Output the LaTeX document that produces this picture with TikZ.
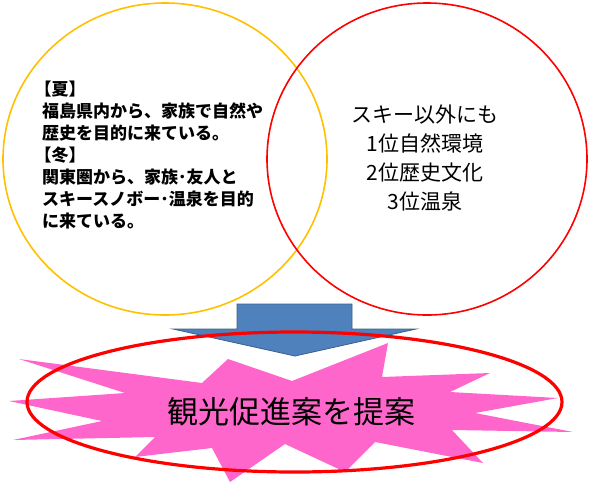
\documentclass[tikz,border=0pt]{standalone}
\usepackage{fontspec}
\newfontfamily\jp{Noto Sans CJK JP}
\definecolor{circY}{HTML}{FFC000}
\definecolor{circR}{HTML}{FF0000}
\definecolor{arrF}{HTML}{4F81BD}
\definecolor{arrD}{HTML}{3A5F8E}
\definecolor{boom}{HTML}{FF66CC}
\tikzset{
  bubble/.style={line width=1.6pt},
  lefttext/.style={font=\jp\bfseries\fontsize{17}{22}\selectfont, align=left, inner sep=0pt, anchor=north west},
  righttext/.style={font=\jp\fontsize{21}{28.7}\selectfont, align=center, inner sep=0pt},
  goaltext/.style={font=\jp\fontsize{31}{36}\selectfont, inner sep=0pt}
}
\begin{document}
\begin{tikzpicture}[x=1pt,y=-1pt]
\useasboundingbox (0,0) rectangle (589,483);
% circles
\draw[bubble, circY] (165,159) ellipse [x radius=162, y radius=156];
\draw[bubble, circR] (427,159) ellipse [x radius=160, y radius=156];
% arrow
\coordinate (tip) at (295,356);
\draw[arrD, fill=arrF, line width=0.8pt, line join=miter]
  (237,304) -- (352,304) -- (352,329) -- (416,329) -- (tip) -- (173,329) -- (237,329) -- cycle;
% explosion
\fill[boom] (19,359) -- (202,383) -- (228,359) -- (292,381) -- (388,343) -- (382,377)
  -- (490,373) -- (450,392) -- (558,398) -- (475,413) -- (573,432) -- (452,430)
  -- (483,463) -- (375,442) -- (345,472) -- (285,444) -- (230,482) -- (212,448)
  -- (135,457) -- (155,437) -- (13,440) -- (102,421) -- (9,401) -- (125,393) -- cycle;
% big red ellipse
\draw[circR, line width=3.2pt] (294.5,402) ellipse [x radius=267.5, y radius=70];
% texts
\node[lefttext] (summer) at (42,81) {\kern-0.45em【夏】\\福島県内から、家族で自然や\\歴史を目的に来ている。\\\kern-0.45em【冬】\\関東圏から、家族･友人と\\スキースノボー･温泉を目的\\に来ている。};
\node[righttext] (rank) at (425,158) {スキー以外にも\\1位自然環境\\2位歴史文化\\3位温泉};
\node[goaltext] (goal) at (291,412) {観光促進案を提案};
\end{tikzpicture}
\end{document}
